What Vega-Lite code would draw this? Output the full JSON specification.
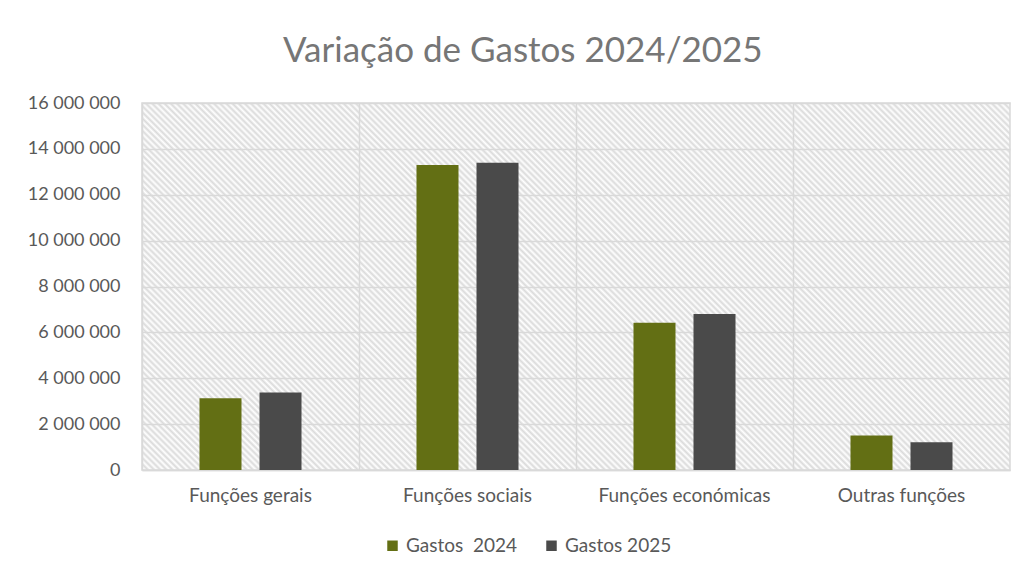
{
  "$schema": "https://vega.github.io/schema/vega-lite/v6.json",
  "width": 868,
  "height": 367,
  "autosize": "none",
  "padding": {"left": 142, "top": 103, "right": 15, "bottom": 106},
  "background": "white",
  "title": {
    "text": "Variação de Gastos 2024/2025",
    "font": "Lato",
    "fontSize": 35,
    "fontWeight": "normal",
    "color": "#767676",
    "anchor": "start",
    "frame": "group",
    "dx": 141,
    "offset": 25
  },
  "data": {
    "values": [
      {"categoria": "Funções gerais", "serie": "Gastos\u00a0 2024", "valor": 3130000},
      {"categoria": "Funções gerais", "serie": "Gastos 2025", "valor": 3380000},
      {"categoria": "Funções sociais", "serie": "Gastos\u00a0 2024", "valor": 13300000},
      {"categoria": "Funções sociais", "serie": "Gastos 2025", "valor": 13400000},
      {"categoria": "Funções económicas", "serie": "Gastos\u00a0 2024", "valor": 6420000},
      {"categoria": "Funções económicas", "serie": "Gastos 2025", "valor": 6800000},
      {"categoria": "Outras funções", "serie": "Gastos\u00a0 2024", "valor": 1500000},
      {"categoria": "Outras funções", "serie": "Gastos 2025", "valor": 1210000}
    ]
  },
  "mark": {"type": "bar"},
  "encoding": {
    "x": {
      "field": "categoria",
      "type": "nominal",
      "sort": null,
      "scale": {"paddingInner": 0, "paddingOuter": 0},
      "axis": {
        "title": null,
        "labelAngle": 0,
        "labelFont": "Lato",
        "labelFontSize": 19,
        "labelColor": "#595959",
        "labelPadding": 16,
        "grid": true,
        "gridColor": "#d9d9d9",
        "gridWidth": 1.5,
        "bandPosition": 0,
        "domainColor": "#d9d9d9",
        "domainWidth": 1.5,
        "ticks": false
      }
    },
    "xOffset": {
      "field": "serie",
      "type": "nominal",
      "sort": null,
      "scale": {"paddingInner": 0.3, "paddingOuter": 0.958}
    },
    "y": {
      "field": "valor",
      "type": "quantitative",
      "scale": {"domain": [0, 16000000], "nice": false},
      "axis": {
        "title": null,
        "values": [0, 2000000, 4000000, 6000000, 8000000, 10000000, 12000000, 14000000, 16000000],
        "labelExpr": "replace(format(datum.value, ','), regexp(',', 'g'), ' ')",
        "labelFont": "Lato",
        "labelFontSize": 18,
        "labelColor": "#595959",
        "labelPadding": 22,
        "grid": true,
        "gridColor": "#d9d9d9",
        "gridWidth": 1.5,
        "domain": false,
        "ticks": false
      }
    },
    "color": {
      "field": "serie",
      "type": "nominal",
      "sort": null,
      "scale": {"range": ["#636f14", "#4a4a4a"]},
      "legend": {
        "title": null,
        "orient": "none",
        "direction": "horizontal",
        "legendX": 241,
        "legendY": 433,
        "symbolType": "square",
        "symbolSize": 110,
        "symbolStrokeWidth": 0,
        "labelFont": "Lato",
        "labelFontSize": 19,
        "labelColor": "#595959",
        "labelOffset": 4,
        "columnPadding": 24
      }
    }
  },
  "config": {
    "view": {
      "stroke": "#d9d9d9",
      "strokeWidth": 1.5,
      "fill": {
        "gradient": "linear",
        "x1": 0, "y1": 1, "x2": 1.20702, "y2": 0.48966,
        "stops": [
{"offset":0,"color":"#dadada"},{"offset":0.0025,"color":"#fff"},{"offset":0.005,"color":"#dadada"},{"offset":0.0075,"color":"#fff"},
{"offset":0.01,"color":"#dadada"},{"offset":0.0125,"color":"#fff"},{"offset":0.015,"color":"#dadada"},{"offset":0.0175,"color":"#fff"},
{"offset":0.02,"color":"#dadada"},{"offset":0.0225,"color":"#fff"},{"offset":0.025,"color":"#dadada"},{"offset":0.0275,"color":"#fff"},
{"offset":0.03,"color":"#dadada"},{"offset":0.0325,"color":"#fff"},{"offset":0.035,"color":"#dadada"},{"offset":0.0375,"color":"#fff"},
{"offset":0.04,"color":"#dadada"},{"offset":0.0425,"color":"#fff"},{"offset":0.045,"color":"#dadada"},{"offset":0.0475,"color":"#fff"},
{"offset":0.05,"color":"#dadada"},{"offset":0.0525,"color":"#fff"},{"offset":0.055,"color":"#dadada"},{"offset":0.0575,"color":"#fff"},
{"offset":0.06,"color":"#dadada"},{"offset":0.0625,"color":"#fff"},{"offset":0.065,"color":"#dadada"},{"offset":0.0675,"color":"#fff"},
{"offset":0.07,"color":"#dadada"},{"offset":0.0725,"color":"#fff"},{"offset":0.075,"color":"#dadada"},{"offset":0.0775,"color":"#fff"},
{"offset":0.08,"color":"#dadada"},{"offset":0.0825,"color":"#fff"},{"offset":0.085,"color":"#dadada"},{"offset":0.0875,"color":"#fff"},
{"offset":0.09,"color":"#dadada"},{"offset":0.0925,"color":"#fff"},{"offset":0.095,"color":"#dadada"},{"offset":0.0975,"color":"#fff"},
{"offset":0.10,"color":"#dadada"},{"offset":0.1025,"color":"#fff"},{"offset":0.105,"color":"#dadada"},{"offset":0.1075,"color":"#fff"},
{"offset":0.11,"color":"#dadada"},{"offset":0.1125,"color":"#fff"},{"offset":0.115,"color":"#dadada"},{"offset":0.1175,"color":"#fff"},
{"offset":0.12,"color":"#dadada"},{"offset":0.1225,"color":"#fff"},{"offset":0.125,"color":"#dadada"},{"offset":0.1275,"color":"#fff"},
{"offset":0.13,"color":"#dadada"},{"offset":0.1325,"color":"#fff"},{"offset":0.135,"color":"#dadada"},{"offset":0.1375,"color":"#fff"},
{"offset":0.14,"color":"#dadada"},{"offset":0.1425,"color":"#fff"},{"offset":0.145,"color":"#dadada"},{"offset":0.1475,"color":"#fff"},
{"offset":0.15,"color":"#dadada"},{"offset":0.1525,"color":"#fff"},{"offset":0.155,"color":"#dadada"},{"offset":0.1575,"color":"#fff"},
{"offset":0.16,"color":"#dadada"},{"offset":0.1625,"color":"#fff"},{"offset":0.165,"color":"#dadada"},{"offset":0.1675,"color":"#fff"},
{"offset":0.17,"color":"#dadada"},{"offset":0.1725,"color":"#fff"},{"offset":0.175,"color":"#dadada"},{"offset":0.1775,"color":"#fff"},
{"offset":0.18,"color":"#dadada"},{"offset":0.1825,"color":"#fff"},{"offset":0.185,"color":"#dadada"},{"offset":0.1875,"color":"#fff"},
{"offset":0.19,"color":"#dadada"},{"offset":0.1925,"color":"#fff"},{"offset":0.195,"color":"#dadada"},{"offset":0.1975,"color":"#fff"},
{"offset":0.20,"color":"#dadada"},{"offset":0.2025,"color":"#fff"},{"offset":0.205,"color":"#dadada"},{"offset":0.2075,"color":"#fff"},
{"offset":0.21,"color":"#dadada"},{"offset":0.2125,"color":"#fff"},{"offset":0.215,"color":"#dadada"},{"offset":0.2175,"color":"#fff"},
{"offset":0.22,"color":"#dadada"},{"offset":0.2225,"color":"#fff"},{"offset":0.225,"color":"#dadada"},{"offset":0.2275,"color":"#fff"},
{"offset":0.23,"color":"#dadada"},{"offset":0.2325,"color":"#fff"},{"offset":0.235,"color":"#dadada"},{"offset":0.2375,"color":"#fff"},
{"offset":0.24,"color":"#dadada"},{"offset":0.2425,"color":"#fff"},{"offset":0.245,"color":"#dadada"},{"offset":0.2475,"color":"#fff"},
{"offset":0.25,"color":"#dadada"},{"offset":0.2525,"color":"#fff"},{"offset":0.255,"color":"#dadada"},{"offset":0.2575,"color":"#fff"},
{"offset":0.26,"color":"#dadada"},{"offset":0.2625,"color":"#fff"},{"offset":0.265,"color":"#dadada"},{"offset":0.2675,"color":"#fff"},
{"offset":0.27,"color":"#dadada"},{"offset":0.2725,"color":"#fff"},{"offset":0.275,"color":"#dadada"},{"offset":0.2775,"color":"#fff"},
{"offset":0.28,"color":"#dadada"},{"offset":0.2825,"color":"#fff"},{"offset":0.285,"color":"#dadada"},{"offset":0.2875,"color":"#fff"},
{"offset":0.29,"color":"#dadada"},{"offset":0.2925,"color":"#fff"},{"offset":0.295,"color":"#dadada"},{"offset":0.2975,"color":"#fff"},
{"offset":0.30,"color":"#dadada"},{"offset":0.3025,"color":"#fff"},{"offset":0.305,"color":"#dadada"},{"offset":0.3075,"color":"#fff"},
{"offset":0.31,"color":"#dadada"},{"offset":0.3125,"color":"#fff"},{"offset":0.315,"color":"#dadada"},{"offset":0.3175,"color":"#fff"},
{"offset":0.32,"color":"#dadada"},{"offset":0.3225,"color":"#fff"},{"offset":0.325,"color":"#dadada"},{"offset":0.3275,"color":"#fff"},
{"offset":0.33,"color":"#dadada"},{"offset":0.3325,"color":"#fff"},{"offset":0.335,"color":"#dadada"},{"offset":0.3375,"color":"#fff"},
{"offset":0.34,"color":"#dadada"},{"offset":0.3425,"color":"#fff"},{"offset":0.345,"color":"#dadada"},{"offset":0.3475,"color":"#fff"},
{"offset":0.35,"color":"#dadada"},{"offset":0.3525,"color":"#fff"},{"offset":0.355,"color":"#dadada"},{"offset":0.3575,"color":"#fff"},
{"offset":0.36,"color":"#dadada"},{"offset":0.3625,"color":"#fff"},{"offset":0.365,"color":"#dadada"},{"offset":0.3675,"color":"#fff"},
{"offset":0.37,"color":"#dadada"},{"offset":0.3725,"color":"#fff"},{"offset":0.375,"color":"#dadada"},{"offset":0.3775,"color":"#fff"},
{"offset":0.38,"color":"#dadada"},{"offset":0.3825,"color":"#fff"},{"offset":0.385,"color":"#dadada"},{"offset":0.3875,"color":"#fff"},
{"offset":0.39,"color":"#dadada"},{"offset":0.3925,"color":"#fff"},{"offset":0.395,"color":"#dadada"},{"offset":0.3975,"color":"#fff"},
{"offset":0.40,"color":"#dadada"},{"offset":0.4025,"color":"#fff"},{"offset":0.405,"color":"#dadada"},{"offset":0.4075,"color":"#fff"},
{"offset":0.41,"color":"#dadada"},{"offset":0.4125,"color":"#fff"},{"offset":0.415,"color":"#dadada"},{"offset":0.4175,"color":"#fff"},
{"offset":0.42,"color":"#dadada"},{"offset":0.4225,"color":"#fff"},{"offset":0.425,"color":"#dadada"},{"offset":0.4275,"color":"#fff"},
{"offset":0.43,"color":"#dadada"},{"offset":0.4325,"color":"#fff"},{"offset":0.435,"color":"#dadada"},{"offset":0.4375,"color":"#fff"},
{"offset":0.44,"color":"#dadada"},{"offset":0.4425,"color":"#fff"},{"offset":0.445,"color":"#dadada"},{"offset":0.4475,"color":"#fff"},
{"offset":0.45,"color":"#dadada"},{"offset":0.4525,"color":"#fff"},{"offset":0.455,"color":"#dadada"},{"offset":0.4575,"color":"#fff"},
{"offset":0.46,"color":"#dadada"},{"offset":0.4625,"color":"#fff"},{"offset":0.465,"color":"#dadada"},{"offset":0.4675,"color":"#fff"},
{"offset":0.47,"color":"#dadada"},{"offset":0.4725,"color":"#fff"},{"offset":0.475,"color":"#dadada"},{"offset":0.4775,"color":"#fff"},
{"offset":0.48,"color":"#dadada"},{"offset":0.4825,"color":"#fff"},{"offset":0.485,"color":"#dadada"},{"offset":0.4875,"color":"#fff"},
{"offset":0.49,"color":"#dadada"},{"offset":0.4925,"color":"#fff"},{"offset":0.495,"color":"#dadada"},{"offset":0.4975,"color":"#fff"},
{"offset":0.50,"color":"#dadada"},{"offset":0.5025,"color":"#fff"},{"offset":0.505,"color":"#dadada"},{"offset":0.5075,"color":"#fff"},
{"offset":0.51,"color":"#dadada"},{"offset":0.5125,"color":"#fff"},{"offset":0.515,"color":"#dadada"},{"offset":0.5175,"color":"#fff"},
{"offset":0.52,"color":"#dadada"},{"offset":0.5225,"color":"#fff"},{"offset":0.525,"color":"#dadada"},{"offset":0.5275,"color":"#fff"},
{"offset":0.53,"color":"#dadada"},{"offset":0.5325,"color":"#fff"},{"offset":0.535,"color":"#dadada"},{"offset":0.5375,"color":"#fff"},
{"offset":0.54,"color":"#dadada"},{"offset":0.5425,"color":"#fff"},{"offset":0.545,"color":"#dadada"},{"offset":0.5475,"color":"#fff"},
{"offset":0.55,"color":"#dadada"},{"offset":0.5525,"color":"#fff"},{"offset":0.555,"color":"#dadada"},{"offset":0.5575,"color":"#fff"},
{"offset":0.56,"color":"#dadada"},{"offset":0.5625,"color":"#fff"},{"offset":0.565,"color":"#dadada"},{"offset":0.5675,"color":"#fff"},
{"offset":0.57,"color":"#dadada"},{"offset":0.5725,"color":"#fff"},{"offset":0.575,"color":"#dadada"},{"offset":0.5775,"color":"#fff"},
{"offset":0.58,"color":"#dadada"},{"offset":0.5825,"color":"#fff"},{"offset":0.585,"color":"#dadada"},{"offset":0.5875,"color":"#fff"},
{"offset":0.59,"color":"#dadada"},{"offset":0.5925,"color":"#fff"},{"offset":0.595,"color":"#dadada"},{"offset":0.5975,"color":"#fff"},
{"offset":0.60,"color":"#dadada"},{"offset":0.6025,"color":"#fff"},{"offset":0.605,"color":"#dadada"},{"offset":0.6075,"color":"#fff"},
{"offset":0.61,"color":"#dadada"},{"offset":0.6125,"color":"#fff"},{"offset":0.615,"color":"#dadada"},{"offset":0.6175,"color":"#fff"},
{"offset":0.62,"color":"#dadada"},{"offset":0.6225,"color":"#fff"},{"offset":0.625,"color":"#dadada"},{"offset":0.6275,"color":"#fff"},
{"offset":0.63,"color":"#dadada"},{"offset":0.6325,"color":"#fff"},{"offset":0.635,"color":"#dadada"},{"offset":0.6375,"color":"#fff"},
{"offset":0.64,"color":"#dadada"},{"offset":0.6425,"color":"#fff"},{"offset":0.645,"color":"#dadada"},{"offset":0.6475,"color":"#fff"},
{"offset":0.65,"color":"#dadada"},{"offset":0.6525,"color":"#fff"},{"offset":0.655,"color":"#dadada"},{"offset":0.6575,"color":"#fff"},
{"offset":0.66,"color":"#dadada"},{"offset":0.6625,"color":"#fff"},{"offset":0.665,"color":"#dadada"},{"offset":0.6675,"color":"#fff"},
{"offset":0.67,"color":"#dadada"},{"offset":0.6725,"color":"#fff"},{"offset":0.675,"color":"#dadada"},{"offset":0.6775,"color":"#fff"},
{"offset":0.68,"color":"#dadada"},{"offset":0.6825,"color":"#fff"},{"offset":0.685,"color":"#dadada"},{"offset":0.6875,"color":"#fff"},
{"offset":0.69,"color":"#dadada"},{"offset":0.6925,"color":"#fff"},{"offset":0.695,"color":"#dadada"},{"offset":0.6975,"color":"#fff"},
{"offset":0.70,"color":"#dadada"},{"offset":0.7025,"color":"#fff"},{"offset":0.705,"color":"#dadada"},{"offset":0.7075,"color":"#fff"},
{"offset":0.71,"color":"#dadada"},{"offset":0.7125,"color":"#fff"},{"offset":0.715,"color":"#dadada"},{"offset":0.7175,"color":"#fff"},
{"offset":0.72,"color":"#dadada"},{"offset":0.7225,"color":"#fff"},{"offset":0.725,"color":"#dadada"},{"offset":0.7275,"color":"#fff"},
{"offset":0.73,"color":"#dadada"},{"offset":0.7325,"color":"#fff"},{"offset":0.735,"color":"#dadada"},{"offset":0.7375,"color":"#fff"},
{"offset":0.74,"color":"#dadada"},{"offset":0.7425,"color":"#fff"},{"offset":0.745,"color":"#dadada"},{"offset":0.7475,"color":"#fff"},
{"offset":0.75,"color":"#dadada"},{"offset":0.7525,"color":"#fff"},{"offset":0.755,"color":"#dadada"},{"offset":0.7575,"color":"#fff"},
{"offset":0.76,"color":"#dadada"},{"offset":0.7625,"color":"#fff"},{"offset":0.765,"color":"#dadada"},{"offset":0.7675,"color":"#fff"},
{"offset":0.77,"color":"#dadada"},{"offset":0.7725,"color":"#fff"},{"offset":0.775,"color":"#dadada"},{"offset":0.7775,"color":"#fff"},
{"offset":0.78,"color":"#dadada"},{"offset":0.7825,"color":"#fff"},{"offset":0.785,"color":"#dadada"},{"offset":0.7875,"color":"#fff"},
{"offset":0.79,"color":"#dadada"},{"offset":0.7925,"color":"#fff"},{"offset":0.795,"color":"#dadada"},{"offset":0.7975,"color":"#fff"},
{"offset":0.80,"color":"#dadada"},{"offset":0.8025,"color":"#fff"},{"offset":0.805,"color":"#dadada"},{"offset":0.8075,"color":"#fff"},
{"offset":0.81,"color":"#dadada"},{"offset":0.8125,"color":"#fff"},{"offset":0.815,"color":"#dadada"},{"offset":0.8175,"color":"#fff"},
{"offset":0.82,"color":"#dadada"},{"offset":0.8225,"color":"#fff"},{"offset":0.825,"color":"#dadada"},{"offset":0.8275,"color":"#fff"},
{"offset":0.83,"color":"#dadada"},{"offset":0.8325,"color":"#fff"},{"offset":0.835,"color":"#dadada"},{"offset":0.8375,"color":"#fff"},
{"offset":0.84,"color":"#dadada"},{"offset":0.8425,"color":"#fff"},{"offset":0.845,"color":"#dadada"},{"offset":0.8475,"color":"#fff"},
{"offset":0.85,"color":"#dadada"},{"offset":0.8525,"color":"#fff"},{"offset":0.855,"color":"#dadada"},{"offset":0.8575,"color":"#fff"},
{"offset":0.86,"color":"#dadada"},{"offset":0.8625,"color":"#fff"},{"offset":0.865,"color":"#dadada"},{"offset":0.8675,"color":"#fff"},
{"offset":0.87,"color":"#dadada"},{"offset":0.8725,"color":"#fff"},{"offset":0.875,"color":"#dadada"},{"offset":0.8775,"color":"#fff"},
{"offset":0.88,"color":"#dadada"},{"offset":0.8825,"color":"#fff"},{"offset":0.885,"color":"#dadada"},{"offset":0.8875,"color":"#fff"},
{"offset":0.89,"color":"#dadada"},{"offset":0.8925,"color":"#fff"},{"offset":0.895,"color":"#dadada"},{"offset":0.8975,"color":"#fff"},
{"offset":0.90,"color":"#dadada"},{"offset":0.9025,"color":"#fff"},{"offset":0.905,"color":"#dadada"},{"offset":0.9075,"color":"#fff"},
{"offset":0.91,"color":"#dadada"},{"offset":0.9125,"color":"#fff"},{"offset":0.915,"color":"#dadada"},{"offset":0.9175,"color":"#fff"},
{"offset":0.92,"color":"#dadada"},{"offset":0.9225,"color":"#fff"},{"offset":0.925,"color":"#dadada"},{"offset":0.9275,"color":"#fff"},
{"offset":0.93,"color":"#dadada"},{"offset":0.9325,"color":"#fff"},{"offset":0.935,"color":"#dadada"},{"offset":0.9375,"color":"#fff"},
{"offset":0.94,"color":"#dadada"},{"offset":0.9425,"color":"#fff"},{"offset":0.945,"color":"#dadada"},{"offset":0.9475,"color":"#fff"},
{"offset":0.95,"color":"#dadada"},{"offset":0.9525,"color":"#fff"},{"offset":0.955,"color":"#dadada"},{"offset":0.9575,"color":"#fff"},
{"offset":0.96,"color":"#dadada"},{"offset":0.9625,"color":"#fff"},{"offset":0.965,"color":"#dadada"},{"offset":0.9675,"color":"#fff"},
{"offset":0.97,"color":"#dadada"},{"offset":0.9725,"color":"#fff"},{"offset":0.975,"color":"#dadada"},{"offset":0.9775,"color":"#fff"},
{"offset":0.98,"color":"#dadada"},{"offset":0.9825,"color":"#fff"},{"offset":0.985,"color":"#dadada"},{"offset":0.9875,"color":"#fff"},
{"offset":0.99,"color":"#dadada"},{"offset":0.9925,"color":"#fff"},{"offset":0.995,"color":"#dadada"},{"offset":0.9975,"color":"#fff"},
{"offset":1,"color":"#dadada"}
        ]
      }
    }
  }
}
